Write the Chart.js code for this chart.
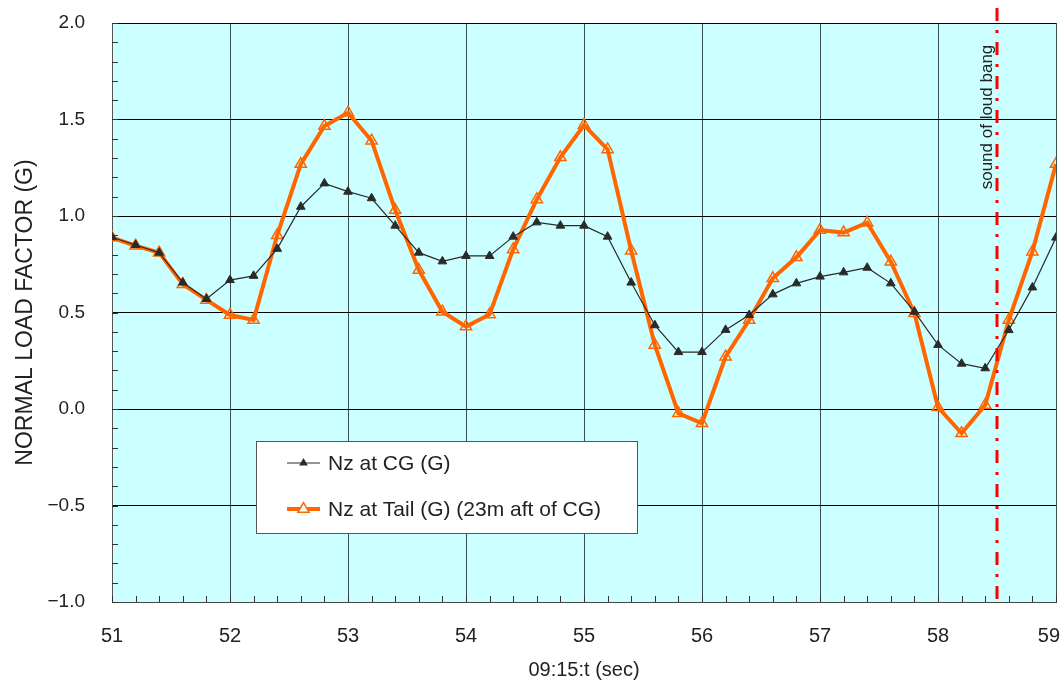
<!DOCTYPE html>
<html>
<head>
<meta charset="utf-8">
<script src="https://cdn.jsdelivr.net/npm/chart.js@4/dist/chart.umd.min.js"></script>
<style>
  html, body { margin: 0; padding: 0; background: #fff; }
  #wrap { width: 1064px; height: 686px; }
</style>
</head>
<body>
<div id="wrap"><canvas id="chart" width="1064" height="686"></canvas></div>
<script>
// time stamps (sec after 09:15)
const timeSec = [51.0, 51.2, 51.4, 51.6, 51.8, 52.0, 52.2, 52.4, 52.6, 52.8,
                 53.0, 53.2, 53.4, 53.6, 53.8, 54.0, 54.2, 54.4, 54.6, 54.8,
                 55.0, 55.2, 55.4, 55.6, 55.8, 56.0, 56.2, 56.4, 56.6, 56.8,
                 57.0, 57.2, 57.4, 57.6, 57.8, 58.0, 58.2, 58.4, 58.6, 58.8, 59.0];

// Nz at CG (G)
const nzCG = [0.89, 0.85, 0.81, 0.655, 0.57, 0.668, 0.69, 0.83, 1.048, 1.169,
              1.126, 1.092, 0.95, 0.81, 0.765, 0.793, 0.793, 0.893, 0.967, 0.95,
              0.95, 0.893, 0.655, 0.434, 0.295, 0.295, 0.41, 0.487, 0.594, 0.651,
              0.686, 0.708, 0.732, 0.651, 0.504, 0.332, 0.235, 0.211, 0.409, 0.63, 0.888];

// Nz at Tail (G), 23m aft of CG
const nzTail = [0.888, 0.846, 0.81, 0.646, 0.565, 0.487, 0.461, 0.90, 1.269, 1.466,
                1.535, 1.39, 1.031, 0.72, 0.504, 0.427, 0.49, 0.827, 1.086, 1.304,
                1.471, 1.345, 0.82, 0.332, -0.022, -0.074, 0.271, 0.461, 0.677, 0.786,
                0.927, 0.914, 0.965, 0.763, 0.496, 0.009, -0.126, 0.021, 0.461, 0.815, 1.269];

const seriesLabels = ['Nz at CG (G)', 'Nz at Tail (G) (23m aft of CG)'];
const bangTime = 58.5;
const bangLabel = 'sound of loud bang';

const ORANGE = '#ff6600';
const DARK = '#2a2a2a';
const FONT = '"Liberation Sans", Arial, sans-serif';

function tri(ctx, x, y, r) {
    ctx.beginPath();
    for (let i = 0; i < 3; i++) {
        const a = i * 2 * Math.PI / 3;
        const px = x + Math.sin(a) * r, py = y - Math.cos(a) * r;
        if (i === 0) ctx.moveTo(px, py); else ctx.lineTo(px, py);
    }
    ctx.closePath();
}

// plot background, and keep the last x label inside the canvas
const bgPlugin = {
    id: 'bg',
    beforeDraw(chart) {
        const { ctx, chartArea: a } = chart;
        const items = chart.scales.x.getLabelItems();
        const last = items[items.length - 1];
        if (last) {
            last.options.textAlign = 'right';
            last.options.translation[0] = a.right + 4;
        }
        ctx.save();
        ctx.fillStyle = '#ccffff';
        ctx.fillRect(a.left, a.top, a.right - a.left, a.bottom - a.top);
        ctx.restore();
    }
};

// minor ticks, event line, legend
const extrasPlugin = {
    id: 'extras',
    afterDatasetsDraw(chart) {
        const { ctx, chartArea: a, scales } = chart;
        const xs = scales.x, ys = scales.y;
        ctx.save();
        // minor ticks (inside)
        ctx.strokeStyle = '#333';
        ctx.lineWidth = 1;
        ctx.beginPath();
        for (let i = -10; i <= 20; i++) {
            const py = Math.round(ys.getPixelForValue(i / 10)) + 0.5;
            ctx.moveTo(a.left, py); ctx.lineTo(a.left + 6, py);
        }
        for (let i = 255; i <= 295; i++) {
            const px = Math.round(xs.getPixelForValue(i / 5)) + 0.5;
            ctx.moveTo(px, a.bottom); ctx.lineTo(px, a.bottom - 6);
        }
        ctx.stroke();

        // loud bang marker
        const bx = xs.getPixelForValue(bangTime);
        ctx.strokeStyle = '#ff0000';
        ctx.lineWidth = 3;
        ctx.setLineDash([13, 9, 3, 9]);
        ctx.beginPath();
        ctx.moveTo(bx, a.top - 15);
        ctx.lineTo(bx, a.bottom);
        ctx.stroke();
        ctx.setLineDash([]);

        ctx.translate(bx - 10, a.top + 94);
        ctx.rotate(-Math.PI / 2);
        ctx.fillStyle = '#222';
        ctx.font = '17px ' + FONT;
        ctx.textAlign = 'center';
        ctx.textBaseline = 'middle';
        ctx.fillText(bangLabel, 0, 0);
        ctx.restore();
    },
    afterDraw(chart) {
        const { ctx, chartArea: a } = chart;
        const bx = a.left + 144, by = a.top + 418, bw = 381, bh = 92;
        ctx.save();
        ctx.fillStyle = '#fff';
        ctx.fillRect(bx, by, bw, bh);
        ctx.strokeStyle = '#555';
        ctx.lineWidth = 1;
        ctx.strokeRect(bx + 0.5, by + 0.5, bw, bh);

        const rows = [by + 22, by + 68];
        const x0 = bx + 31, x1 = bx + 64, xm = (x0 + x1) / 2;
        // CG entry
        ctx.strokeStyle = DARK; ctx.lineWidth = 1.2;
        ctx.beginPath(); ctx.moveTo(x0, rows[0]); ctx.lineTo(x1, rows[0]); ctx.stroke();
        tri(ctx, xm, rows[0], 5); ctx.fillStyle = DARK; ctx.fill();
        // Tail entry
        ctx.strokeStyle = ORANGE; ctx.lineWidth = 4;
        ctx.beginPath(); ctx.moveTo(x0, rows[1]); ctx.lineTo(x1, rows[1]); ctx.stroke();
        tri(ctx, xm, rows[1], 6.5); ctx.fillStyle = '#fff'; ctx.fill();
        ctx.lineWidth = 1.5; ctx.stroke();

        ctx.fillStyle = '#222';
        ctx.font = '21px ' + FONT;
        ctx.textAlign = 'left';
        ctx.textBaseline = 'middle';
        ctx.fillText(seriesLabels[0], x1 + 8, rows[0] + 1);
        ctx.fillText(seriesLabels[1], x1 + 8, rows[1] + 1);
        ctx.restore();
    }
};

const ctx = document.getElementById('chart').getContext('2d');
new Chart(ctx, {
    type: 'line',
    data: {
        datasets: [
            {
                label: seriesLabels[0],
                data: timeSec.map((t, i) => ({ x: t, y: nzCG[i] })),
                borderColor: DARK,
                borderWidth: 1.2,
                pointStyle: 'triangle',
                pointRadius: 5,
                pointBackgroundColor: DARK,
                pointBorderColor: DARK,
                pointBorderWidth: 1,
                tension: 0
            },
            {
                label: seriesLabels[1],
                data: timeSec.map((t, i) => ({ x: t, y: nzTail[i] })),
                borderColor: ORANGE,
                borderWidth: 4,
                pointStyle: 'triangle',
                pointRadius: 6.5,
                pointBackgroundColor: 'rgba(255,255,255,0)',
                pointBorderColor: ORANGE,
                pointBorderWidth: 1.5,
                tension: 0
            }
        ]
    },
    options: {
        responsive: false,
        animation: false,
        events: [],
        layout: { padding: { left: 0, top: 23, right: 8, bottom: 0 } },
        plugins: {
            legend: { display: false },
            tooltip: { enabled: false }
        },
        scales: {
            x: {
                type: 'linear',
                min: 51,
                max: 59,
                afterFit(s) { s.height = 84; s.paddingLeft = 0; s.paddingRight = 0; },
                ticks: {
                    stepSize: 1,
                    padding: 22,
                    color: '#222',
                    font: { family: FONT, size: 20 },
                    maxRotation: 0
                },
                grid: { color: '#3a4f4f', lineWidth: 1, drawTicks: false },
                border: { color: '#444', width: 1 },
                title: {
                    display: true,
                    text: '09:15:t (sec)',
                    color: '#222',
                    font: { family: FONT, size: 20 },
                    padding: { top: 0, bottom: 4 }
                }
            },
            y: {
                min: -1,
                max: 2,
                afterFit(s) { s.width = 112; s.paddingTop = 0; s.paddingBottom = 0; },
                ticks: {
                    stepSize: 0.5,
                    padding: 27,
                    color: '#222',
                    font: { family: FONT, size: 19 },
                    callback: v => (v < 0 ? '\u2212' + Math.abs(v).toFixed(1) : v.toFixed(1))
                },
                grid: { color: '#000', lineWidth: 1, drawTicks: false },
                border: { color: '#555', width: 1 },
                title: {
                    display: true,
                    text: 'NORMAL LOAD FACTOR (G)',
                    color: '#222',
                    font: { family: FONT, size: 23 },
                    padding: { top: 12, bottom: 0 }
                }
            }
        }
    },
    plugins: [bgPlugin, extrasPlugin]
});
</script>
</body>
</html>
